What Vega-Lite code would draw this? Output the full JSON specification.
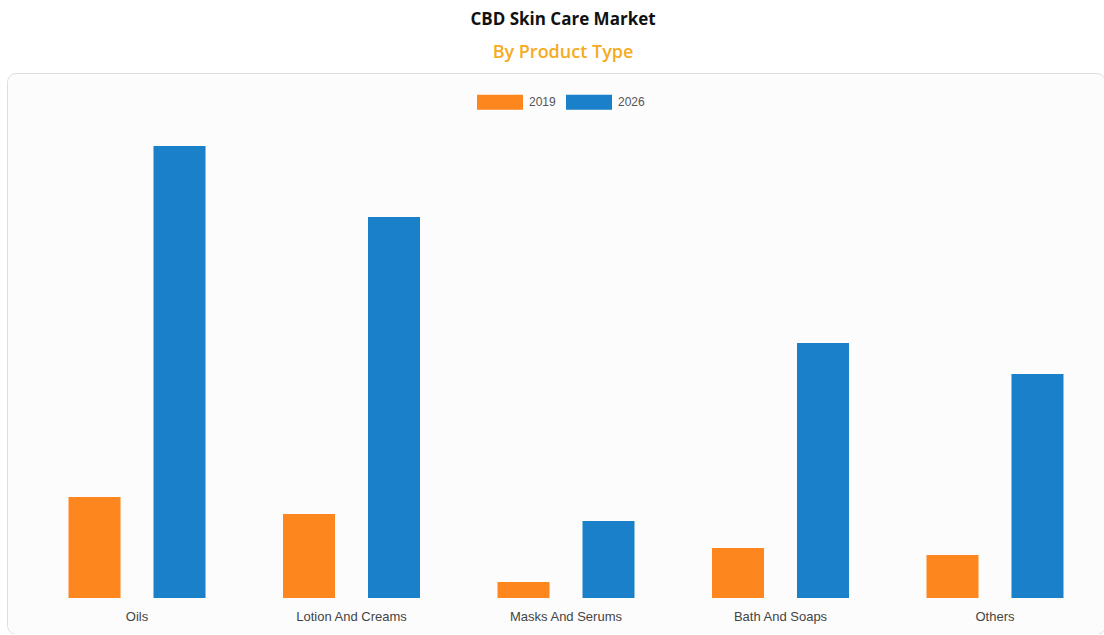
{
  "$schema": "https://vega.github.io/schema/vega-lite/v6.json",
  "autosize": {"type": "none"},
  "padding": {"left": 7, "top": 73, "right": 0, "bottom": 0},
  "width": 1098,
  "height": 561,
  "background": "#ffffff",
  "title": {
    "text": "CBD Skin Care Market",
    "subtitle": "By Product Type",
    "anchor": "middle",
    "frame": "group",
    "dx": 7,
    "font": "Open Sans",
    "fontSize": 17,
    "fontWeight": "bold",
    "color": "#111111",
    "subtitleFont": "Open Sans",
    "subtitleFontSize": 18,
    "subtitleFontWeight": 600,
    "subtitleColor": "#f5ab22",
    "subtitlePadding": 15,
    "offset": 10
  },
  "config": {
    "view": {"stroke": "#dedede", "strokeWidth": 1, "cornerRadius": 9, "fill": "#fcfcfc"}
  },
  "data": {
    "values": [
      {"type": "Oils", "year": "2019", "value": 101},
      {"type": "Oils", "year": "2026", "value": 452},
      {"type": "Lotion And Creams", "year": "2019", "value": 84},
      {"type": "Lotion And Creams", "year": "2026", "value": 381},
      {"type": "Masks And Serums", "year": "2019", "value": 16},
      {"type": "Masks And Serums", "year": "2026", "value": 77},
      {"type": "Bath And Soaps", "year": "2019", "value": 50},
      {"type": "Bath And Soaps", "year": "2026", "value": 255},
      {"type": "Others", "year": "2019", "value": 43},
      {"type": "Others", "year": "2026", "value": 224}
    ]
  },
  "mark": {"type": "bar"},
  "encoding": {
    "x": {
      "field": "type",
      "type": "nominal",
      "sort": null,
      "scale": {"paddingInner": 0, "paddingOuter": 0.0595, "align": 0.892},
      "axis": {
        "title": null,
        "labelAngle": 0,
        "domain": false,
        "ticks": false,
        "tickSize": 0,
        "labelPadding": 4,
        "offset": -28,
        "labelFont": "Liberation Sans",
        "labelFontSize": 13,
        "labelColor": "#444444"
      }
    },
    "xOffset": {
      "field": "year",
      "type": "nominal",
      "scale": {"paddingInner": 0.388, "paddingOuter": 0.456}
    },
    "y": {
      "field": "value",
      "type": "quantitative",
      "scale": {"domain": [-36, 525], "nice": false, "zero": false},
      "axis": null
    },
    "color": {
      "field": "year",
      "type": "nominal",
      "scale": {"domain": ["2019", "2026"], "range": ["#fe861e", "#1a80ca"]},
      "legend": {
        "title": null,
        "orient": "none",
        "direction": "horizontal",
        "legendX": 470,
        "legendY": 6,
        "symbolType": "M-1,-0.326h2v0.652h-2z",
        "symbolSize": 2116,
        "symbolStrokeWidth": 0,
        "labelOffset": 6,
        "columnPadding": 10,
        "labelFont": "Liberation Sans",
        "labelFontSize": 12,
        "labelColor": "#555555"
      }
    }
  }
}
